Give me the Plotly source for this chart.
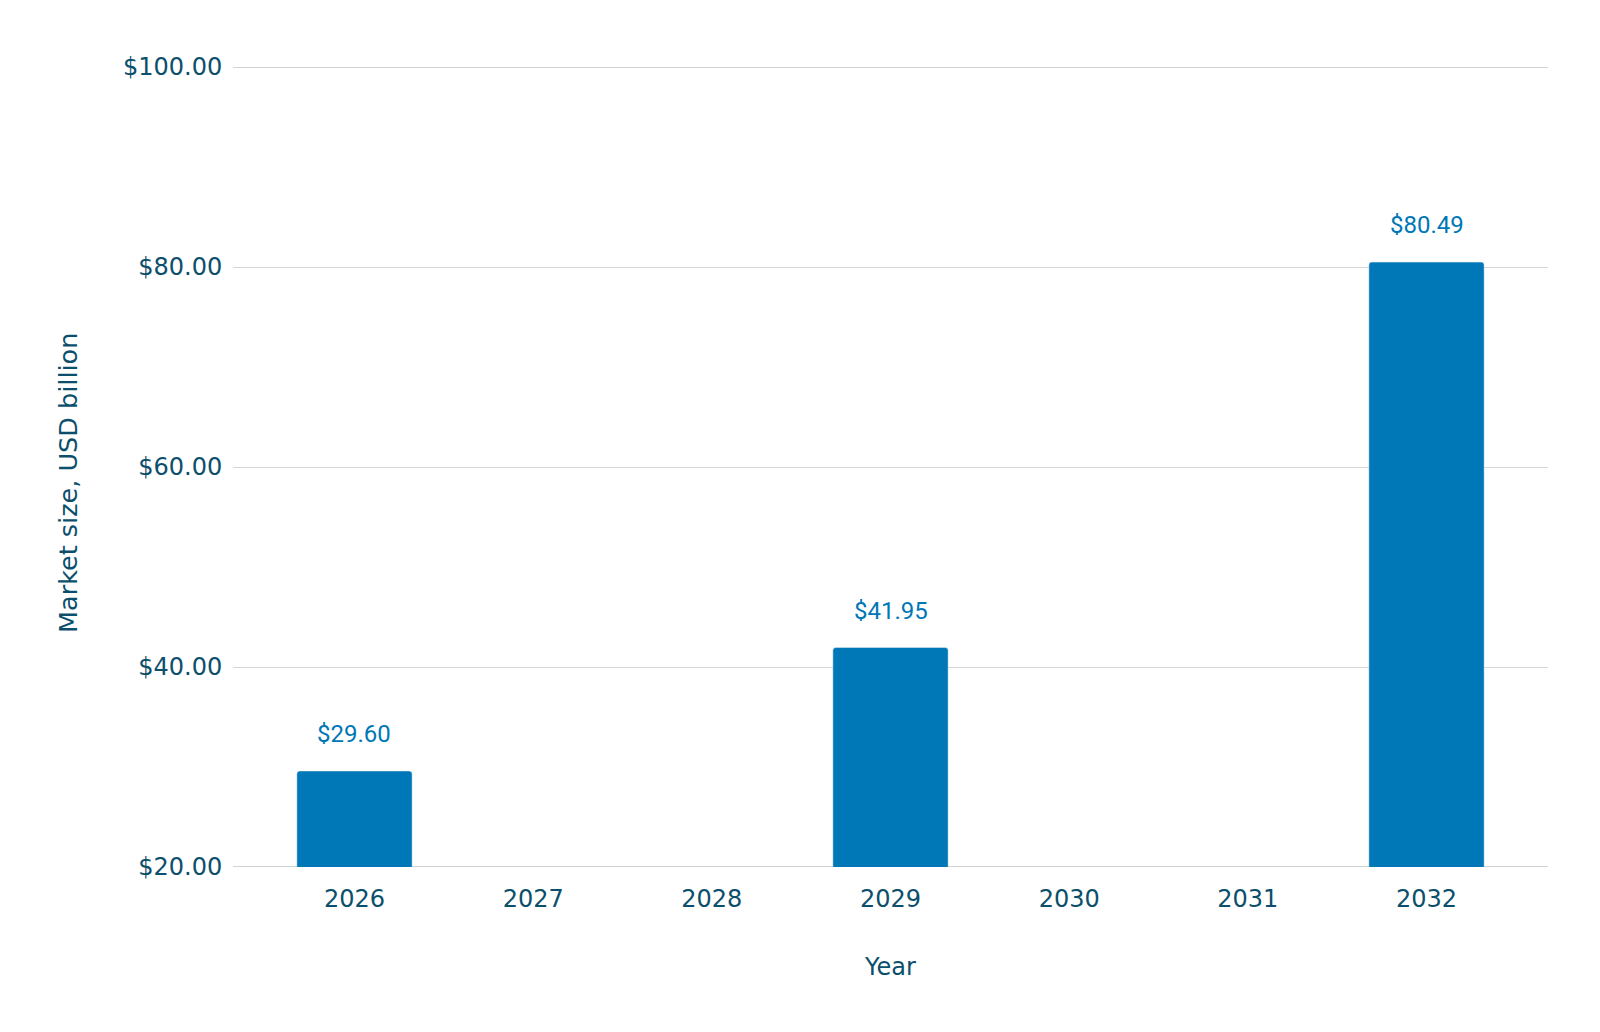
import plotly.graph_objects as go

years = ["2026", "2027", "2028", "2029", "2030", "2031", "2032"]
values = [29.60, None, None, 41.95, None, None, 80.49]
label_texts = ["$29.60", "", "", "$41.95", "", "", "$80.49"]
y_tick_vals = [20, 40, 60, 80, 100]
y_tick_text = ["$20.00", "$40.00", "$60.00", "$80.00", "$100.00"]

BAR_COLOR = "#0077b6"
TICK_COLOR = "#0b4f6c"
GRID_COLOR = "#d6d6d6"
TICK_FONT = "Verdana, DejaVu Sans, sans-serif"
FS = 24

fig = go.Figure()
fig.add_trace(go.Bar(
    x=years, y=values, marker_color=BAR_COLOR, hoverinfo="skip",
))

for i, (v, t) in enumerate(zip(values, label_texts)):
    if v is not None and t:
        fig.add_annotation(
            x=i, y=v, text=t, showarrow=False, yanchor="bottom", yshift=21,
            font=dict(family="Roboto, sans-serif", size=FS, color=BAR_COLOR),
        )

# edge gridlines (plotly omits gridlines at exact range ends)
for yv in (y_tick_vals[0], y_tick_vals[-1]):
    fig.add_shape(type="line", xref="paper", yref="y", x0=0, x1=1, y0=yv, y1=yv,
                  line=dict(color="#c4c4c4", width=1.3), layer="below")

fig.add_annotation(
    text="Market size, USD billion", xref="paper", yref="paper",
    x=-0.1255, y=0.48, xanchor="center", yanchor="middle", textangle=-90,
    showarrow=False, font=dict(family=TICK_FONT, size=25.5, color=TICK_COLOR),
)

fig.update_layout(
    width=1600, height=1032,
    paper_bgcolor="white", plot_bgcolor="white",
    margin=dict(l=225, r=60, t=59, b=173),
    bargap=0.355, barcornerradius=3,
    showlegend=False,
    xaxis=dict(
        type="category", categoryorder="array", categoryarray=years,
        range=[-0.68, len(years) - 1 + 0.68],
        showgrid=False, showline=False, zeroline=False,
        tickfont=dict(family=TICK_FONT, size=FS, color=TICK_COLOR),
        ticks="outside", ticklen=10, tickcolor="rgba(0,0,0,0)",
        title=dict(text="Year", font=dict(family=TICK_FONT, size=FS, color=TICK_COLOR), standoff=46),
    ),
    yaxis=dict(
        range=[20, 100], tickvals=y_tick_vals, ticktext=y_tick_text,
        showgrid=True, gridcolor=GRID_COLOR, gridwidth=1,
        zeroline=False, showline=False,
        tickfont=dict(family=TICK_FONT, size=FS, color=TICK_COLOR),
        ticks="outside", ticklen=5, tickcolor="rgba(0,0,0,0)",
    ),
)

fig.write_html("out.html")
